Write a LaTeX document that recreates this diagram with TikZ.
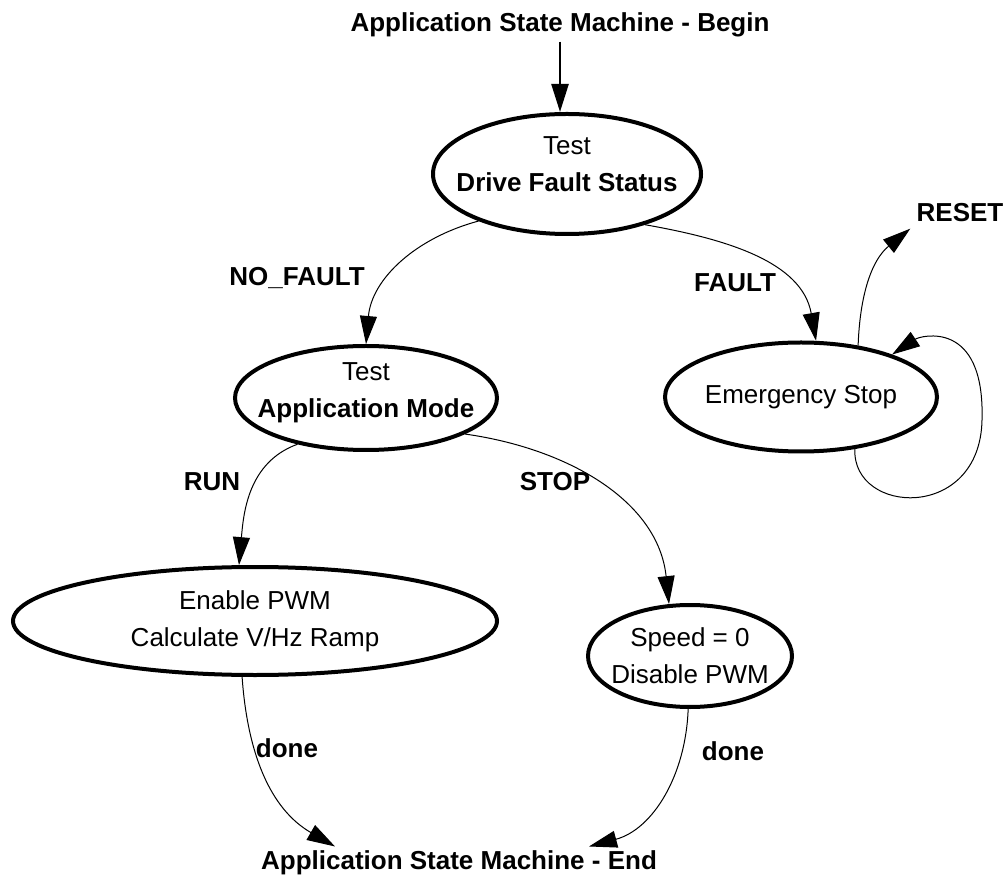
\documentclass[tikz,border=0pt]{standalone}
\usepackage{fontspec}
\setmainfont{Liberation Sans}
\usepackage{tikz}
\usetikzlibrary{shapes.geometric,arrows.meta}

\begin{document}
\begin{tikzpicture}[x=0.5pt, y=0.5pt, >={Triangle[length=14pt,width=8.5pt]}]
\tikzset{
state/.style    = {draw, shape=ellipse, line width=2pt, inner xsep=-20pt, inner ysep=-4pt, align=center, font=\fontsize{13}{18.5}\selectfont},
heading/.style  = {font=\fontsize{13}{16}\selectfont\bfseries, inner sep=2pt},
lbl/.style      = {font=\fontsize{13}{16}\selectfont\bfseries, inner sep=0pt, anchor=base},
trans/.style    = {->, line width=0.5pt},
}
\useasboundingbox (0,0) rectangle (1005,-886);

    % Headings
    \node [heading]     (begin)     at (560, -25)   {Application State Machine - Begin};
    \node [heading]     (finish)    at (459, -863)  {Application State Machine - End};

    % States
    \node [state, minimum width=134pt, minimum height=60pt, text depth=9.5pt]   (drive)   at (567, -174)  {Test\\\textbf{Drive Fault Status}};
    \node [state, minimum width=131pt, minimum height=52pt, text depth=7.5pt]   (appmode) at (366, -398)  {Test\\\textbf{Application Mode}};
    \node [state, minimum width=136pt, minimum height=54.5pt] (estop)   at (801, -397)  {Emergency Stop};
    \node [state, minimum width=242pt, minimum height=54pt]   (enable)  at (255, -621)  {Enable PWM\\Calculate V/Hz Ramp};
    \node [state, minimum width=102pt, minimum height=51pt]   (speed)   at (690, -656)  {Speed = 0\\Disable PWM};

    % Labels
    \node [lbl]                 (l_nofault) at (297, -286)  {NO\_FAULT};
    \node [lbl]                 (l_fault)   at (735, -292)  {FAULT};
    \node [lbl, inner sep=3pt]  (reset)     at (960, -222)  {RESET};
    \node [lbl]                 (l_run)     at (212, -491)  {RUN};
    \node [lbl]                 (l_stop)    at (555, -491)  {STOP};
    \node [lbl]                 (l_done1)   at (287, -757)  {done};
    \node [lbl]                 (l_done2)   at (733, -760)  {done};

    % Transitions
    \draw [->, line width=1.2pt] (begin.south) -- (drive.north -| begin.south);
    \draw [trans] (drive.208)    to[out=195, in=85]   (appmode.north);
    \draw [trans] (drive.-33)    to[out=-10, in=100]  (estop.75);
    \draw [trans] (estop.42)     to[out=88, in=219]   (reset.south west);
    \draw [trans] (estop.-44) .. controls (852,-515) and (980,-522) .. (982,-420)
                              .. controls (985,-318) and (920,-336) .. (estop.25);
    \draw [trans] (appmode.214)  to[out=200, in=85]   (enable.106);
    \draw [trans] (appmode.-20)  to[out=-8, in=96]    (speed.112);
    \draw [trans] (enable.-103)  to[out=-86, in=150]  ([xshift=-62pt]finish.north);
    \draw [trans] (speed.-92)    to[out=-92, in=15]   ([xshift=65pt]finish.north);

\end{tikzpicture}
\end{document}
